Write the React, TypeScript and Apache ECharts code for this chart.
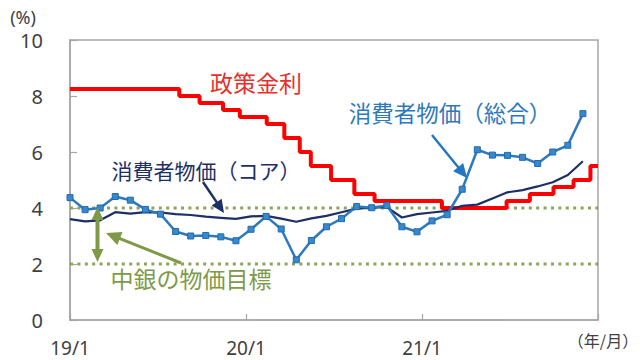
import React, { useEffect, useRef } from "react";
import * as echarts from "echarts";

// Monthly categories for CPI (19/1 .. 21/12)
const monthCats = [
  "19/1", "19/2", "19/3", "19/4", "19/5", "19/6", "19/7", "19/8", "19/9", "19/10", "19/11", "19/12",
  "20/1", "20/2", "20/3", "20/4", "20/5", "20/6", "20/7", "20/8", "20/9", "20/10", "20/11", "20/12",
  "21/1", "21/2", "21/3", "21/4", "21/5", "21/6", "21/7", "21/8", "21/9", "21/10", "21/11", "21/12",
];

// 消費者物価（総合）
const cpiHeadline = [
  4.37, 3.94, 4.0, 4.41, 4.28, 3.95, 3.78, 3.16, 3.0, 3.02, 2.97, 2.83,
  3.24, 3.7, 3.25, 2.15, 2.84, 3.33, 3.62, 4.05, 4.01, 4.09, 3.33, 3.15,
  3.54, 3.76, 4.67, 6.08, 5.89, 5.88, 5.81, 5.59, 6.0, 6.24, 7.37,
];

// 消費者物価（コア）
const cpiCore = [
  3.6, 3.52, 3.56, 3.85, 3.8, 3.85, 3.84, 3.78, 3.75, 3.69, 3.65, 3.61,
  3.7, 3.72, 3.62, 3.51, 3.63, 3.72, 3.85, 3.98, 4.01, 4.03, 3.66, 3.78,
  3.84, 3.9, 4.08, 4.12, 4.34, 4.56, 4.64, 4.77, 4.92, 5.18, 5.67,
];

// 政策金利 (change dates and new levels)
const rateDates = [
  "2019-01-01", "2019-08-15", "2019-09-26", "2019-11-14", "2019-12-19",
  "2020-02-13", "2020-03-20", "2020-04-21", "2020-05-14", "2020-06-25",
  "2020-08-13", "2020-09-24", "2021-02-11", "2021-06-24", "2021-08-12",
  "2021-09-30", "2021-11-11", "2021-12-16", "2022-01-01",
];
const rateValues = [
  8.25, 8.0, 7.75, 7.5, 7.25, 7.0, 6.5, 6.0, 5.5, 5.0, 4.5, 4.25, 4.0, 4.25, 4.5, 4.75, 5.0, 5.5, 5.5,
];

// 中銀の物価目標 band
const targetHigh = 4;
const targetLow = 2;

// x tick labels
const yearLabels = ["19/1", "20/1", "21/1"];

const RED = "#FF0000";
const NAVY = "#1C2F66";
const BLUE = "#2E78BE";
const OLIVE = "#7E9A48";
const GRAY_TEXT = "#404040";
const AXIS = "#A6A6A6";
const JP = '"Noto Sans CJK JP", "Noto Sans", sans-serif';
const LAT = '"Noto Sans", "Noto Sans CJK JP", sans-serif';

function monthPos(s: string) {
  const [y, m, d] = s.split("-").map(Number);
  const dim = new Date(y, m, 0).getDate();
  return (y - 2019) * 12 + (m - 1) + (d - 1) / dim;
}

function arrowHead(tx: number, ty: number, fx: number, fy: number, len: number, w: number, color: string) {
  const dx = tx - fx;
  const dy = ty - fy;
  const L = Math.hypot(dx, dy);
  const ux = dx / L;
  const uy = dy / L;
  const bx = tx - ux * len;
  const by = ty - uy * len;
  const px = -uy * (w / 2);
  const py = ux * (w / 2);
  return {
    type: "polygon",
    shape: { points: [[tx, ty], [bx + px, by + py], [bx - px, by - py]] },
    style: { fill: color },
    z: 100,
  };
}

function arrow(x1: number, y1: number, x2: number, y2: number, color: string, lw: number, len: number, w: number, both = false) {
  const dx = x2 - x1;
  const dy = y2 - y1;
  const L = Math.hypot(dx, dy);
  const ux = dx / L;
  const uy = dy / L;
  const sx = both ? x1 + ux * (len - 2) : x1;
  const sy = both ? y1 + uy * (len - 2) : y1;
  const ex = x2 - ux * (len - 2);
  const ey = y2 - uy * (len - 2);
  const els: any[] = [
    { type: "line", shape: { x1: sx, y1: sy, x2: ex, y2: ey }, style: { stroke: color, lineWidth: lw }, z: 100 },
    arrowHead(x2, y2, x1, y1, len, w, color),
  ];
  if (both) els.push(arrowHead(x1, y1, x2, y2, len, w, color));
  return els;
}

function txt(text: string, x: number, y: number, color: string, size: number, family = JP) {
  return {
    type: "text",
    x,
    y,
    z: 100,
    style: { text, fill: color, fontSize: size, fontFamily: family, align: "center", verticalAlign: "middle" },
  };
}

export default function App() {
  const ref = useRef<HTMLDivElement>(null);

  useEffect(() => {
    if (!ref.current) return;
    const chart = echarts.init(ref.current, undefined, { renderer: "svg" });

    const rateData = rateDates.map((d, i) => [monthPos(d), rateValues[i]]);

    const option: any = {
      animation: false,
      backgroundColor: "#ffffff",
      grid: {
        left: 70,
        top: 40,
        right: 42,
        bottom: 40,
        show: true,
        borderColor: AXIS,
        borderWidth: 1.5,
        backgroundColor: "transparent",
      },
      xAxis: [
        {
          type: "value",
          min: 0,
          max: 36,
          interval: 12,
          axisLine: { show: true, lineStyle: { color: AXIS, width: 1.5 } },
          axisTick: { show: true, inside: true, length: 6, lineStyle: { color: AXIS, width: 1.2 } },
          splitLine: { show: false },
          showMaxLabel: false,
          axisLabel: {
            color: GRAY_TEXT,
            fontSize: 19,
            lineHeight: 19,
            fontFamily: LAT,
            margin: 18,
            formatter: (v: number) => yearLabels[Math.round(v / 12)] ?? "",
          },
        },
        {
          type: "category",
          data: monthCats,
          boundaryGap: false,
          show: false,
        },
      ],
      yAxis: {
        type: "value",
        min: 0,
        max: 10,
        interval: 2,
        axisLine: { show: true, lineStyle: { color: AXIS, width: 1.5 } },
        axisTick: { show: true, inside: true, length: 7, lineStyle: { color: AXIS, width: 1.2 } },
        splitLine: { show: false },
        axisLabel: { color: GRAY_TEXT, fontSize: 20, fontFamily: LAT, margin: 27 },
      },
      series: [
        {
          name: "目標上限",
          type: "line",
          xAxisIndex: 0,
          data: [[0, targetHigh], [36, targetHigh]],
          symbol: "none",
          lineStyle: { color: "#8BA35A", width: 3.2, type: [3, 4.4], cap: "butt" },
          z: 1,
        },
        {
          name: "目標下限",
          type: "line",
          xAxisIndex: 0,
          data: [[0, targetLow], [36, targetLow]],
          symbol: "none",
          lineStyle: { color: "#8BA35A", width: 3.2, type: [3, 4.4], cap: "butt" },
          z: 1,
        },
        {
          name: "政策金利",
          type: "line",
          xAxisIndex: 0,
          step: "end",
          data: rateData,
          symbol: "none",
          lineStyle: { color: RED, width: 4 },
          z: 3,
        },
        {
          name: "消費者物価（コア）",
          type: "line",
          xAxisIndex: 1,
          data: cpiCore,
          symbol: "none",
          lineStyle: { color: NAVY, width: 2.2 },
          z: 4,
        },
        {
          name: "消費者物価（総合）",
          type: "line",
          xAxisIndex: 1,
          data: cpiHeadline,
          symbol: "rect",
          symbolSize: 6,
          itemStyle: { color: "#3A88CC", borderColor: "#1E6AB0", borderWidth: 1 },
          lineStyle: { color: BLUE, width: 2.5 },
          z: 5,
        },
      ],
      graphic: [
        txt("(%)", 23, 17, GRAY_TEXT, 18, LAT),
        txt("（年/月）", 603, 340, GRAY_TEXT, 16),
        txt("政策金利", 256, 82, "#E8302C", 23),
        txt("消費者物価（コア）", 206, 170, NAVY, 21),
        txt("消費者物価（総合）", 450, 112, BLUE, 22.5),
        txt("中銀の物価目標", 191, 278, OLIVE, 23),
        ...arrow(203, 182, 224, 213, NAVY, 2.5, 13, 12),
        ...arrow(432, 135, 467, 178, "#2277C4", 2.5, 14, 13),
        ...arrow(181, 263, 106, 233, OLIVE, 3, 15, 14),
        ...arrow(97.5, 207, 97.5, 262, OLIVE, 4, 13, 12, true),
      ],
    };

    chart.setOption(option);
    return () => chart.dispose();
  }, []);

  return (
    <div
      ref={ref}
      style={{ position: "fixed", left: 0, top: 0, width: 640, height: 360, background: "#fff" }}
    />
  );
}
